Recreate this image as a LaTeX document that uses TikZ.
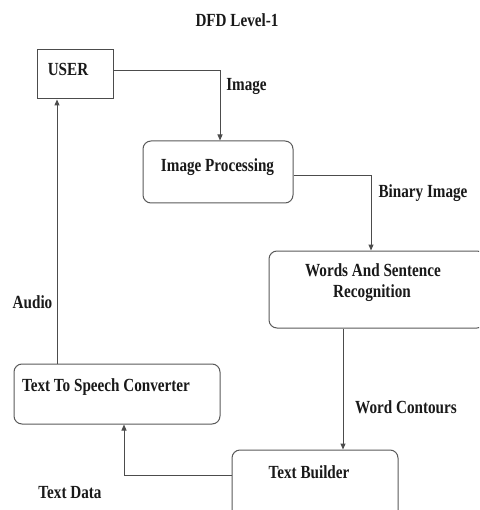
\documentclass[tikz,border=0pt]{standalone}
\usepackage{fontspec}
\setmainfont[FakeStretch=0.82]{Liberation Serif}
\usetikzlibrary{arrows.meta}
\begin{document}
\begin{tikzpicture}[x=1pt,y=-1pt,
  font=\fontsize{18.5}{20}\selectfont\bfseries,
  box/.style={draw=black!65, line width=1pt, rounded corners=8pt, inner sep=0pt},
  sbox/.style={draw=black!70, line width=1pt, inner sep=0pt},
  txt/.style={inner sep=0pt, text=black!90},
  flow/.style={draw=black!70, line width=1pt, -{Triangle[length=6pt,width=5pt]}}]
\useasboundingbox (0,0) rectangle (479,510);
\clip (0,0) rectangle (479,510);
% boxes
\node[sbox, minimum width=76pt, minimum height=49pt] (user) at (75,74.5) {};
\node[box, minimum width=150pt, minimum height=62pt] (ip) at (218,172) {};
\node[box, minimum width=216pt, minimum height=77pt] (wsr) at (377,289.5) {};
\node[box, minimum width=206pt, minimum height=60pt] (tts) at (117,394) {};
\node[box, minimum width=166pt, minimum height=70pt] (tb) at (315,485) {};
% texts
\node[txt] (title) at (237,20) {DFD Level-1};
\node[txt] (usertxt) at (68,69) {USER};
\node[txt] (iptxt) at (217.5,167) {Image Processing};
\node[txt] (wsrtxt1) at (373,270) {Words And Sentence};
\node[txt] (wsrtxt2) at (372,293) {Recognition};
\node[txt] (ttstxt) at (106,387) {Text To Speech Converter};
\node[txt] (tbtxt) at (309,472) {Text Builder};
% labels
\node[txt] (limage) at (246.5,86) {Image};
\node[txt] (lbin) at (423,193) {Binary Image};
\node[txt] (lword) at (406,407) {Word Contours};
\node[txt] (laudio) at (32.5,302) {Audio};
\node[txt] (ltext) at (70,493) {Text Data};
% connectors
\coordinate (c1) at ([xshift=2pt]ip.north);
\draw[flow] ([yshift=3.5pt]user.east) -| (c1);
\coordinate (c2) at ([xshift=-6pt]wsr.north);
\draw[flow] ([yshift=-4pt]ip.east) -| (c2);
\coordinate (c3) at ([xshift=28pt]tb.north);
\draw[flow] (wsr.south -| c3) -- (c3);
\coordinate (c4) at ([xshift=7pt]tts.south);
\draw[flow] ([yshift=10pt]tb.west) -| (c4);
\coordinate (c5) at ([xshift=-18pt]user.south);
\draw[flow] (tts.north -| c5) -- (c5);
\end{tikzpicture}
\end{document}
